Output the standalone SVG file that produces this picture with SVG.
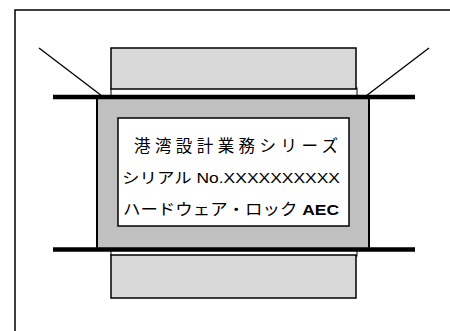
<svg xmlns="http://www.w3.org/2000/svg" width="450" height="331" viewBox="0 0 450 331">
  <style>
    .frame { fill: none; stroke: #000; stroke-width: 1.5; }
    .plate { fill: #d9d9d9; stroke: #000; stroke-width: 1.5; }
    .strip { fill: #fff; stroke: #000; stroke-width: 1; }
    .body { fill: #c0c0c0; stroke: #000; stroke-width: 2; }
    .label { fill: #fff; stroke: #000; stroke-width: 1.5; }
    .bar { stroke: #000; stroke-width: 4.5; }
    .lead { stroke: #000; stroke-width: 1.3; fill: none; }
    .txt { font-family: "Liberation Sans", "Noto Sans CJK JP", sans-serif; fill: #000; }
  </style>

  <rect width="450" height="331" fill="#fff"/>

  <!-- outer frame, open to the right and bottom -->
  <rect class="frame" x="15" y="10" width="500" height="400"/>

  <!-- upper plate with its spacer strip -->
  <g id="upper-plate">
    <rect class="strip" x="111" y="88" width="246" height="9"/>
    <rect class="plate" x="111" y="48" width="245" height="41"/>
  </g>

  <!-- lower plate with its spacer strip -->
  <g id="lower-plate">
    <rect class="strip" x="111" y="250" width="246" height="6"/>
    <rect class="plate" x="111" y="255" width="245" height="43"/>
  </g>

  <!-- main body -->
  <g id="body">
    <rect class="body" x="97" y="97" width="272" height="152"/>
  </g>

  <!-- bars and lead lines -->
  <g id="connectors">
    <line class="bar" x1="53" y1="97" x2="415" y2="97"/>
    <line class="bar" x1="53" y1="249.5" x2="415" y2="249.5"/>
    <line class="lead" x1="39" y1="48" x2="102" y2="96"/>
    <line class="lead" x1="429" y1="48" x2="366" y2="96"/>
  </g>

  <!-- label plate -->
  <g id="label">
    <rect class="label" x="118" y="118" width="231" height="108"/>
    <text class="txt" x="134" y="152" font-size="16.5" textLength="204" lengthAdjust="spacing">港湾設計業務シリーズ</text>
    <text class="txt" x="122" y="183" font-size="15" textLength="218" lengthAdjust="spacingAndGlyphs">シリアル No.XXXXXXXXXX</text>
    <text class="txt" x="123" y="215" font-size="15.5" textLength="216" lengthAdjust="spacingAndGlyphs">ハードウェア・ロック <tspan font-weight="bold">AEC</tspan></text>
  </g>
</svg>
